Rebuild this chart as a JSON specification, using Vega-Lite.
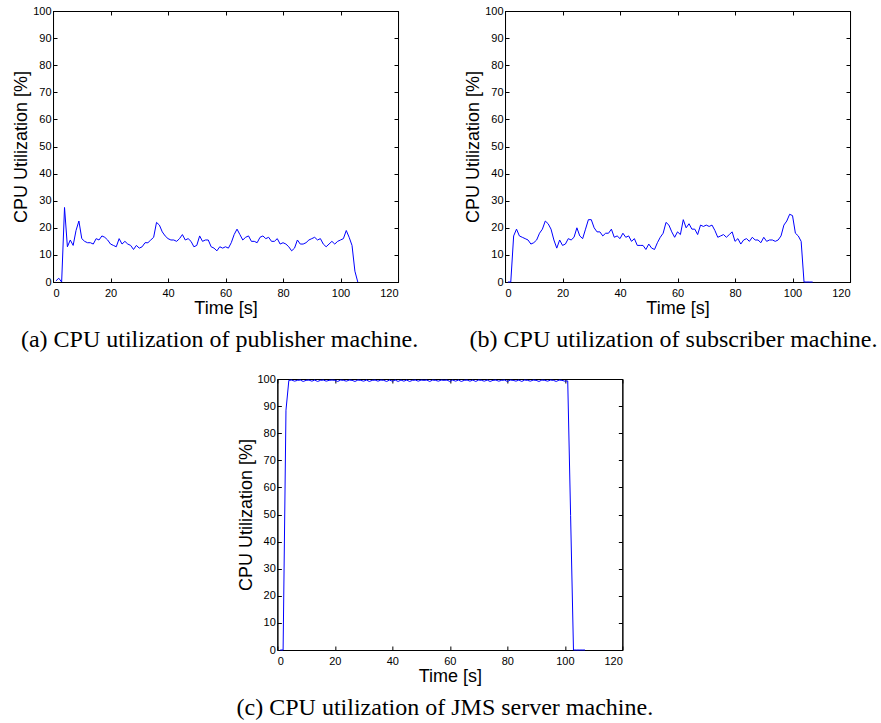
{
  "$schema": "https://vega.github.io/schema/vega-lite/v6.json",
  "padding": {"left": 12, "top": 4, "right": 0, "bottom": 0},
  "datasets": {
    "pub": [
      {"t":1,"v":0.4},{"t":2,"v":1.4},{"t":3,"v":0},{"t":4,"v":27.5},{"t":5,"v":13},{"t":6,"v":15.5},{"t":7,"v":13.5},{"t":8,"v":19},{"t":9,"v":22.5},{"t":10,"v":16},
      {"t":11,"v":15},{"t":12,"v":14.5},{"t":13,"v":14.5},{"t":14,"v":14},{"t":15,"v":16},{"t":16,"v":15.5},{"t":17,"v":17},{"t":18,"v":16.5},{"t":19,"v":15.5},{"t":20,"v":14},
      {"t":21,"v":13.5},{"t":22,"v":13},{"t":23,"v":16},{"t":24,"v":14},{"t":25,"v":15},{"t":26,"v":14},{"t":27,"v":13.5},{"t":28,"v":12},{"t":29,"v":13.5},{"t":30,"v":12.5},
      {"t":31,"v":13},{"t":32,"v":14.5},{"t":33,"v":14.5},{"t":34,"v":15.5},{"t":35,"v":16.5},{"t":36,"v":22},{"t":37,"v":21},{"t":38,"v":18.5},{"t":39,"v":17},{"t":40,"v":16},
      {"t":41,"v":15.5},{"t":42,"v":15.5},{"t":43,"v":15},{"t":44,"v":16},{"t":45,"v":17.5},{"t":46,"v":15.5},{"t":47,"v":16},{"t":48,"v":15},{"t":49,"v":13},{"t":50,"v":13.5},
      {"t":51,"v":17},{"t":52,"v":15},{"t":53,"v":15.5},{"t":54,"v":15.5},{"t":55,"v":13},{"t":56,"v":12.5},{"t":57,"v":11.5},{"t":58,"v":13},{"t":59,"v":12.5},{"t":60,"v":13},
      {"t":61,"v":12.5},{"t":62,"v":14.5},{"t":63,"v":17.5},{"t":64,"v":19.5},{"t":65,"v":17.5},{"t":66,"v":15.5},{"t":67,"v":16.5},{"t":68,"v":17},{"t":69,"v":15},{"t":70,"v":15},
      {"t":71,"v":14.5},{"t":72,"v":16.5},{"t":73,"v":17},{"t":74,"v":16},{"t":75,"v":16.5},{"t":76,"v":15},{"t":77,"v":15},{"t":78,"v":16},{"t":79,"v":14},{"t":80,"v":14.5},
      {"t":81,"v":14},{"t":82,"v":13},{"t":83,"v":11.5},{"t":84,"v":12.5},{"t":85,"v":15.5},{"t":86,"v":14},{"t":87,"v":14},{"t":88,"v":14.5},{"t":89,"v":15.5},{"t":90,"v":16},
      {"t":91,"v":16.5},{"t":92,"v":15.5},{"t":93,"v":16},{"t":94,"v":14},{"t":95,"v":13},{"t":96,"v":14},{"t":97,"v":15},{"t":98,"v":14},{"t":99,"v":15},{"t":100,"v":15.5},
      {"t":101,"v":16},{"t":102,"v":19},{"t":103,"v":16.5},{"t":104,"v":13.5},{"t":105,"v":4},{"t":106,"v":0}
    ],
    "sub": [
      {"t":1,"v":0},{"t":2,"v":0},{"t":3,"v":17},{"t":4,"v":19.5},{"t":5,"v":17},{"t":6,"v":16.5},{"t":7,"v":16},{"t":8,"v":15.5},{"t":9,"v":14},{"t":10,"v":14.5},
      {"t":11,"v":15.5},{"t":12,"v":18},{"t":13,"v":19.5},{"t":14,"v":22.5},{"t":15,"v":21.5},{"t":16,"v":19.5},{"t":17,"v":15.5},{"t":18,"v":12.5},{"t":19,"v":15.5},{"t":20,"v":13.5},
      {"t":21,"v":14},{"t":22,"v":16},{"t":23,"v":15.5},{"t":24,"v":16.5},{"t":25,"v":20},{"t":26,"v":17},{"t":27,"v":16},{"t":28,"v":19.5},{"t":29,"v":23},{"t":30,"v":23},
      {"t":31,"v":20},{"t":32,"v":18.5},{"t":33,"v":18.5},{"t":34,"v":17},{"t":35,"v":18},{"t":36,"v":18},{"t":37,"v":19.5},{"t":38,"v":16.5},{"t":39,"v":17},{"t":40,"v":16},
      {"t":41,"v":18},{"t":42,"v":16.5},{"t":43,"v":17},{"t":44,"v":15},{"t":45,"v":16},{"t":46,"v":13.5},{"t":47,"v":13.5},{"t":48,"v":13.5},{"t":49,"v":12},{"t":50,"v":14},
      {"t":51,"v":12.5},{"t":52,"v":12},{"t":53,"v":14.5},{"t":54,"v":16.5},{"t":55,"v":18},{"t":56,"v":22},{"t":57,"v":21},{"t":58,"v":18.5},{"t":59,"v":16.5},{"t":60,"v":18.5},
      {"t":61,"v":17.5},{"t":62,"v":23},{"t":63,"v":20},{"t":64,"v":21.5},{"t":65,"v":19.5},{"t":66,"v":19.5},{"t":67,"v":17.5},{"t":68,"v":21},{"t":69,"v":20.5},{"t":70,"v":21},
      {"t":71,"v":20.5},{"t":72,"v":21},{"t":73,"v":19},{"t":74,"v":16.5},{"t":75,"v":17},{"t":76,"v":17.5},{"t":77,"v":16.5},{"t":78,"v":17.5},{"t":79,"v":18.5},{"t":80,"v":15},
      {"t":81,"v":16},{"t":82,"v":14},{"t":83,"v":15.5},{"t":84,"v":16},{"t":85,"v":15},{"t":86,"v":16.5},{"t":87,"v":15.5},{"t":88,"v":15.5},{"t":89,"v":14.5},{"t":90,"v":16.5},
      {"t":91,"v":15},{"t":92,"v":15.5},{"t":93,"v":15.5},{"t":94,"v":15},{"t":95,"v":15.5},{"t":96,"v":17},{"t":97,"v":21},{"t":98,"v":22.5},{"t":99,"v":25},{"t":100,"v":24.5},
      {"t":101,"v":18},{"t":102,"v":17},{"t":103,"v":15},{"t":104,"v":0},{"t":105,"v":0},{"t":106,"v":0},{"t":107,"v":0}
    ],
    "jms": [
      {"t":1,"v":0},{"t":2,"v":0},{"t":3,"v":88.5},{"t":4,"v":99.5},{"t":5,"v":99.6},{"t":6,"v":99.2},{"t":7,"v":99.5},{"t":8,"v":99.6},{"t":9,"v":99.1},{"t":10,"v":99.5},
      {"t":11,"v":99.6},{"t":12,"v":99.2},{"t":13,"v":99.6},{"t":14,"v":99.1},{"t":15,"v":99.5},{"t":16,"v":99.6},{"t":17,"v":99.2},{"t":18,"v":99.5},{"t":19,"v":99.6},{"t":20,"v":99.5},
      {"t":21,"v":99.1},{"t":22,"v":99.6},{"t":23,"v":99.5},{"t":24,"v":99.2},{"t":25,"v":99.6},{"t":26,"v":99.5},{"t":27,"v":99.1},{"t":28,"v":99.6},{"t":29,"v":99.5},{"t":30,"v":99.2},
      {"t":31,"v":99.6},{"t":32,"v":99.1},{"t":33,"v":99.5},{"t":34,"v":99.6},{"t":35,"v":99.2},{"t":36,"v":99.6},{"t":37,"v":99.5},{"t":38,"v":99.1},{"t":39,"v":99.6},{"t":40,"v":99.2},
      {"t":41,"v":99.6},{"t":42,"v":99.1},{"t":43,"v":99.6},{"t":44,"v":99.2},{"t":45,"v":99.6},{"t":46,"v":99.1},{"t":47,"v":99.5},{"t":48,"v":99.6},{"t":49,"v":99.2},{"t":50,"v":99.6},
      {"t":51,"v":99.5},{"t":52,"v":99.6},{"t":53,"v":99.1},{"t":54,"v":99.6},{"t":55,"v":99.5},{"t":56,"v":99.2},{"t":57,"v":99.6},{"t":58,"v":99.5},{"t":59,"v":99.6},{"t":60,"v":99.1},
      {"t":61,"v":99.6},{"t":62,"v":99.2},{"t":63,"v":99.6},{"t":64,"v":99.1},{"t":65,"v":99.5},{"t":66,"v":99.6},{"t":67,"v":99.2},{"t":68,"v":99.6},{"t":69,"v":99.1},{"t":70,"v":99.6},
      {"t":71,"v":99.5},{"t":72,"v":99.2},{"t":73,"v":99.6},{"t":74,"v":99.1},{"t":75,"v":99.5},{"t":76,"v":99.6},{"t":77,"v":99.2},{"t":78,"v":99.5},{"t":79,"v":99.6},{"t":80,"v":99.1},
      {"t":81,"v":99.6},{"t":82,"v":99.5},{"t":83,"v":99.2},{"t":84,"v":99.6},{"t":85,"v":99.1},{"t":86,"v":99.6},{"t":87,"v":99.5},{"t":88,"v":99.2},{"t":89,"v":99.6},{"t":90,"v":99.5},
      {"t":91,"v":99.1},{"t":92,"v":99.6},{"t":93,"v":99.5},{"t":94,"v":99.2},{"t":95,"v":99.6},{"t":96,"v":99.5},{"t":97,"v":99.1},{"t":98,"v":99.6},{"t":99,"v":99.5},{"t":100,"v":99.2},
      {"t":101,"v":99.3},{"t":102,"v":49.6},{"t":103,"v":0},{"t":104,"v":0},{"t":105,"v":0},{"t":106,"v":0},{"t":107,"v":0}
    ]
  },
  "vconcat": [
    {
      "hconcat": [
        {
          "width": 345, "height": 271,
          "title": {"text": "(a) CPU utilization of publisher machine.", "dx": -6},
          "data": {"name": "pub"},
          "layer": [
            {"mark": {"type": "line", "color": "#0000ff", "strokeWidth": 1},
             "encoding": {
               "x": {"field": "t", "type": "quantitative", "scale": {"domain": [0, 120], "nice": false}, "axis": {"orient": "bottom", "values": [0,20,40,60,80,100,120], "title": "Time [s]"}},
               "y": {"field": "v", "type": "quantitative", "scale": {"domain": [0, 100], "nice": false}, "axis": {"orient": "left", "values": [0,10,20,30,40,50,60,70,80,90,100], "title": "CPU Utilization [%]"}}}},
            {"mark": {"type": "line", "opacity": 0},
             "encoding": {
               "x": {"field": "t", "type": "quantitative", "scale": {"domain": [0, 120], "nice": false}, "axis": {"orient": "top", "values": [0,20,40,60,80,100,120], "labels": false, "title": null}},
               "y": {"field": "v", "type": "quantitative", "scale": {"domain": [0, 100], "nice": false}, "axis": {"orient": "right", "values": [0,10,20,30,40,50,60,70,80,90,100], "labels": false, "title": null}}}}
          ],
          "resolve": {"axis": {"x": "independent", "y": "independent"}}
        },
        {
          "width": 345, "height": 271,
          "title": {"text": "(b) CPU utilization of subscriber machine.", "dx": -4},
          "data": {"name": "sub"},
          "layer": [
            {"mark": {"type": "line", "color": "#0000ff", "strokeWidth": 1},
             "encoding": {
               "x": {"field": "t", "type": "quantitative", "scale": {"domain": [0, 120], "nice": false}, "axis": {"orient": "bottom", "values": [0,20,40,60,80,100,120], "title": "Time [s]"}},
               "y": {"field": "v", "type": "quantitative", "scale": {"domain": [0, 100], "nice": false}, "axis": {"orient": "left", "values": [0,10,20,30,40,50,60,70,80,90,100], "title": "CPU Utilization [%]"}}}},
            {"mark": {"type": "line", "opacity": 0},
             "encoding": {
               "x": {"field": "t", "type": "quantitative", "scale": {"domain": [0, 120], "nice": false}, "axis": {"orient": "top", "values": [0,20,40,60,80,100,120], "labels": false, "title": null}},
               "y": {"field": "v", "type": "quantitative", "scale": {"domain": [0, 100], "nice": false}, "axis": {"orient": "right", "values": [0,10,20,30,40,50,60,70,80,90,100], "labels": false, "title": null}}}}
          ],
          "resolve": {"axis": {"x": "independent", "y": "independent"}}
        }
      ],
      "spacing": 107,
      "bounds": "flush"
    },
    {
      "width": 345, "height": 271,
      "title": {"text": "(c) CPU utilization of JMS server machine.", "dx": -5},
      "data": {"name": "jms"},
      "layer": [
        {"mark": {"type": "line", "color": "#0000ff", "strokeWidth": 1},
         "encoding": {
           "x": {"field": "t", "type": "quantitative", "scale": {"domain": [0, 120], "nice": false}, "axis": {"orient": "bottom", "values": [0,20,40,60,80,100,120], "title": "Time [s]"}},
           "y": {"field": "v", "type": "quantitative", "scale": {"domain": [0, 100], "nice": false}, "axis": {"orient": "left", "values": [0,10,20,30,40,50,60,70,80,90,100], "title": "CPU Utilization [%]"}}}},
        {"mark": {"type": "line", "opacity": 0},
         "encoding": {
           "x": {"field": "t", "type": "quantitative", "scale": {"domain": [0, 120], "nice": false}, "axis": {"orient": "top", "values": [0,20,40,60,80,100,120], "labels": false, "title": null}},
           "y": {"field": "v", "type": "quantitative", "scale": {"domain": [0, 100], "nice": false}, "axis": {"orient": "right", "values": [0,10,20,30,40,50,60,70,80,90,100], "labels": false, "title": null}}}}
      ],
      "resolve": {"axis": {"x": "independent", "y": "independent"}}
    }
  ],
  "spacing": 19,
  "center": true,
  "config": {
    "view": {"stroke": "black", "strokeWidth": 1},
    "axis": {
      "grid": false,
      "domainColor": "black",
      "domainWidth": 1,
      "tickColor": "black",
      "tickSize": -4,
      "labelFont": "Liberation Sans",
      "labelFontSize": 11,
      "labelColor": "black",
      "titleFont": "Liberation Sans",
      "titleFontSize": 18,
      "titleFontWeight": "normal",
      "titleColor": "black"
    },
    "axisX": {"labelPadding": 9, "titlePadding": 1},
    "axisY": {"labelPadding": 6, "titlePadding": 2},
    "title": {
      "orient": "bottom",
      "anchor": "middle",
      "frame": "group",
      "font": "Liberation Serif",
      "fontSize": 24,
      "fontWeight": "normal",
      "color": "black",
      "offset": 11
    }
  }
}
